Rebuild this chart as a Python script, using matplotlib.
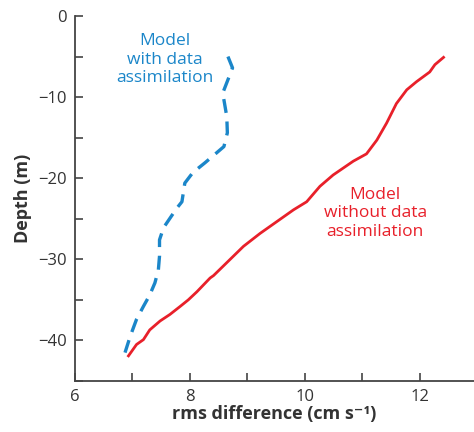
import matplotlib
matplotlib.use("Agg")
from matplotlib import pyplot as plt
from matplotlib.ticker import MultipleLocator

plt.rcParams['font.family'] = ['Open Sans', 'DejaVu Sans']

# 有同化的模型（蓝色虚线）
with_x = [8.66, 8.74, 8.57, 8.64, 8.65, 8.59, 8.26, 8.05, 7.91, 7.86, 7.77,
          7.54, 7.47, 7.47, 7.45, 7.39, 7.30, 7.19, 7.07, 6.96, 6.87]
with_y = [-5.0, -6.4, -9.5, -12.4, -14.4, -16.1, -18.1, -19.3, -20.6, -22.9, -23.7,
          -26.1, -27.6, -29.6, -31.3, -32.9, -34.4, -35.8, -37.4, -39.5, -41.5]

# 无同化的模型（红色实线）
without_x = [12.41, 12.26, 12.17, 11.94, 11.77, 11.59, 11.42, 11.25, 11.07, 10.84,
             10.49, 10.26, 10.03, 9.80, 9.22, 8.93, 8.41, 8.35, 8.12, 7.97, 7.83,
             7.65, 7.48, 7.30, 7.19, 7.07, 6.93]
without_y = [-5.1, -6.0, -6.9, -8.1, -9.1, -10.8, -13.2, -15.3, -17.0, -17.9,
             -19.6, -21.0, -22.9, -23.9, -26.8, -28.4, -32.0, -32.3, -34.0, -35.0, -35.8,
             -36.8, -37.6, -38.7, -39.9, -40.5, -41.9]

blue = '#1b86c9'
red = '#e8202a'

fig = plt.figure(figsize=(4.74, 4.32), dpi=100)
ax = fig.add_axes([75 / 474, 51 / 432, 399 / 474, 365 / 432])

ax.plot(with_x, with_y, color=blue, linewidth=2.4, linestyle=(0, (4.2, 2.6)))
ax.plot(without_x, without_y, color=red, linewidth=2.0)

# 曲线标注
ax.text(7.57, -5.4, 'Model\nwith data\nassimilation', color=blue, fontsize=12.5,
        ha='center', va='center', linespacing=1.2)
ax.text(11.22, -24.3, 'Model\nwithout data\nassimilation', color=red, fontsize=12.5,
        ha='center', va='center', linespacing=1.2)

ax.set_xlim(6, 12.94)
ax.set_ylim(-45, 0)
ax.xaxis.set_major_locator(MultipleLocator(2))
ax.xaxis.set_minor_locator(MultipleLocator(1))
ax.yaxis.set_major_locator(MultipleLocator(10))
ax.yaxis.set_minor_locator(MultipleLocator(5))

for s in ['top', 'right']:
    ax.spines[s].set_visible(False)
for s in ['left', 'bottom']:
    ax.spines[s].set_color('#444444')
    ax.spines[s].set_linewidth(1.3)

ax.tick_params(which='both', direction='in', length=6, width=1.2, color='#444444',
               labelsize=12, labelcolor='#333333')
ax.tick_params(axis='x', pad=6)
ax.tick_params(axis='y', pad=6)

ax.set_xlabel('rms difference (cm s⁻¹)', fontsize=13, fontweight='bold',
              color='#333333', labelpad=0)
ax.set_ylabel('Depth (m)', fontsize=13, fontweight='bold', color='#333333',
              labelpad=4)

fig.savefig('out.png', dpi=100)
